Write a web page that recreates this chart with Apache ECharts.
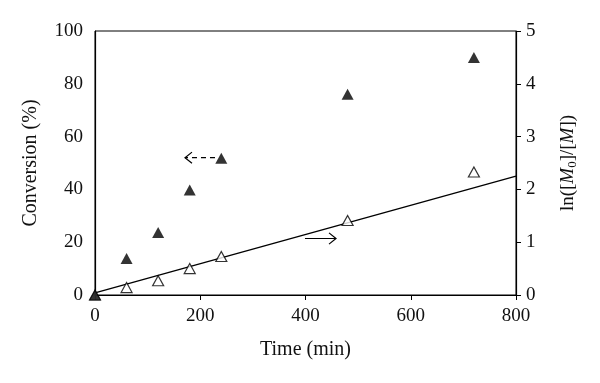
<!DOCTYPE html>
<html><head><meta charset="utf-8">
<script src="https://cdn.jsdelivr.net/npm/echarts@6/dist/echarts.min.js"></script>
<style>html,body{margin:0;padding:0;background:#fff}#c{width:600px;height:383px}</style>
</head><body><div id="c"></div>
<script>
const times = [0, 60, 120, 180, 240, 480, 720];
const conversion = [0, 13.8, 23.7, 39.8, 51.8, 76, 90];
const lnRatio = [0, 0.14, 0.27, 0.5, 0.73, 1.41, 2.33];
const fitX = [0, 800];
const fitY = [0.04, 2.25];
const leftArrow = [228, 52, 171, 52];   // tail x, tail y, head x, head y (left axis)
const rightArrow = [399, 1.07, 458, 1.07]; // right axis
const xTicks = [0, 200, 400, 600, 800];

const F = 'Liberation Serif, DejaVu Serif, serif';
const C = '#111';
const chart = echarts.init(document.getElementById('c'));

function arrowRender(dashed) {
  return function (params, api) {
    const p1 = api.coord([api.value(0), api.value(1)]);
    const p2 = api.coord([api.value(2), api.value(3)]);
    const dir = Math.sign(p2[0] - p1[0]);
    const h = 7;
    return {
      type: 'group',
      children: [
        { type: 'line', shape: { x1: p1[0], y1: p1[1], x2: p2[0], y2: p2[1] },
          style: { stroke: '#000', lineWidth: 1.2, lineDash: dashed ? [5, 4] : null } },
        { type: 'polyline', shape: { points: [[p2[0] - dir * h, p2[1] - h * 0.8], [p2[0], p2[1]], [p2[0] - dir * h, p2[1] + h * 0.8]] },
          style: { stroke: '#000', lineWidth: 1.2, fill: null } }
      ]
    };
  };
}

chart.setOption({
  animation: false,
  backgroundColor: '#fff',
  grid: { left: 95, right: 84, top: 31, bottom: 88, show: true, borderColor: '#000', borderWidth: 1 },
  xAxis: {
    type: 'value', min: 0, max: 800, interval: 200,
    name: 'Time (min)', nameLocation: 'middle', nameGap: 45,
    nameTextStyle: { fontFamily: F, fontSize: 20, color: C },
    axisLine: { lineStyle: { color: '#000', width: 1.2 } },
    axisTick: { show: true, length: 5, lineStyle: { color: '#000' } },
    axisLabel: { fontFamily: F, fontSize: 19, color: C, margin: 12 },
    splitLine: { show: false }
  },
  yAxis: [{
    type: 'value', min: 0, max: 100, interval: 20,
    name: 'Conversion (%)', nameLocation: 'middle', nameGap: 54, nameRotate: 90,
    nameTextStyle: { fontFamily: F, fontSize: 20, color: C },
    axisLine: { show: true, lineStyle: { color: '#000', width: 1.2 } },
    axisTick: { show: false },
    axisLabel: { fontFamily: F, fontSize: 19, color: C, margin: 12 },
    splitLine: { show: false }
  }, {
    type: 'value', min: 0, max: 5, interval: 1, position: 'right',
    name: '{n|ln([}{i|M}{s|0}{n|]/[}{i|M}{n|])}', nameLocation: 'middle', nameGap: 41, nameRotate: 90,
    nameTextStyle: { fontFamily: F, fontSize: 19, color: C,
      rich: {
        n: { fontFamily: F, fontSize: 19, color: C },
        i: { fontFamily: F, fontSize: 19, color: C, fontStyle: 'italic' },
        s: { fontFamily: F, fontSize: 13, color: C, padding: [9, 0, 0, 0] }
      } },
    axisLine: { show: true, lineStyle: { color: '#000', width: 1.2 } },
    axisTick: { show: true, length: 5, lineStyle: { color: '#000' } },
    axisLabel: { fontFamily: F, fontSize: 19, color: C, margin: 10 },
    splitLine: { show: false }
  }],
  series: [
    { type: 'line', yAxisIndex: 1, data: fitX.map((x, i) => [x, fitY[i]]), symbol: 'none',
      lineStyle: { color: '#000', width: 1.3 }, z: 2 },
    { type: 'scatter', yAxisIndex: 1, data: times.map((t, i) => [t, lnRatio[i]]),
      symbol: 'triangle', symbolSize: [11, 10],
      itemStyle: { color: '#fff', borderColor: '#000', borderWidth: 1.2 }, z: 3 },
    { type: 'scatter', yAxisIndex: 0, data: times.map((t, i) => [t, conversion[i]]),
      symbol: 'triangle', symbolSize: [12, 11],
      itemStyle: { color: '#000' }, z: 4 },
    { type: 'custom', yAxisIndex: 0, data: [leftArrow], renderItem: arrowRender(true), z: 5 },
    { type: 'custom', yAxisIndex: 1, data: [rightArrow], renderItem: arrowRender(false), z: 5 }
  ]
});
</script></body></html>
